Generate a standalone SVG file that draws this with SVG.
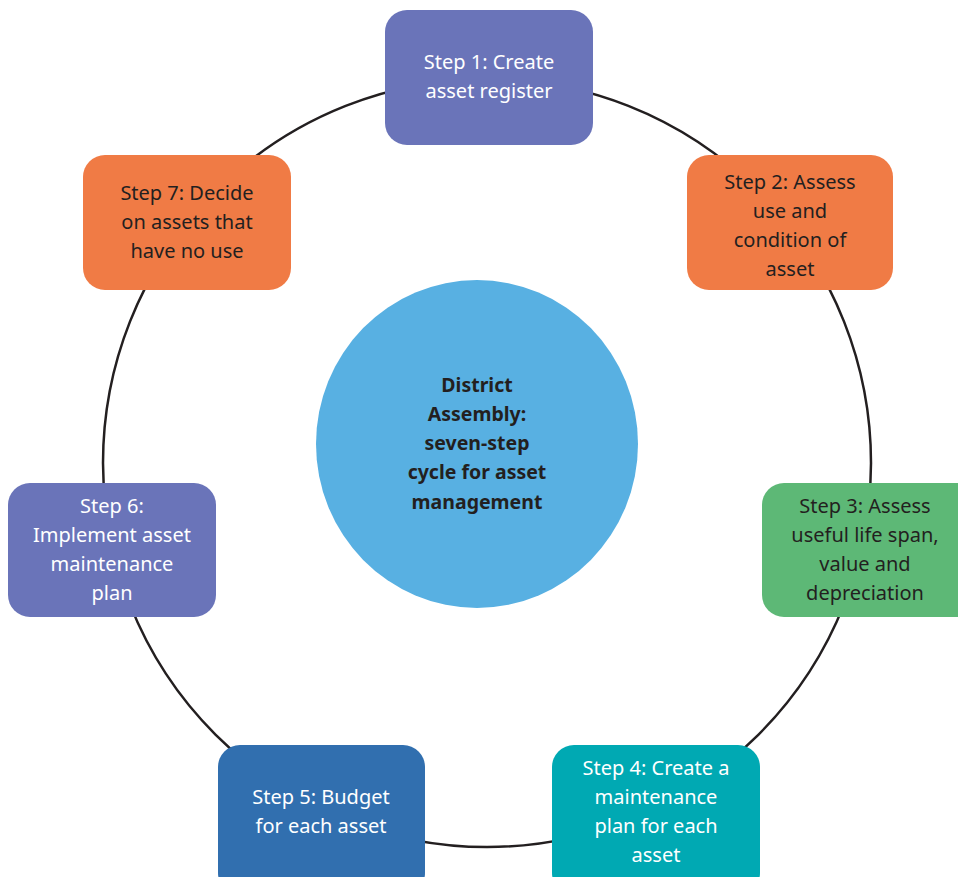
<svg xmlns="http://www.w3.org/2000/svg" width="958" height="877" viewBox="0 0 958 877">
<style>
.box{stroke:none}
.t{font-family:"Noto Sans","Open Sans","DejaVu Sans",sans-serif;font-size:20px;text-anchor:middle}
.w{fill:#ffffff}
.d{fill:#231f20}
.c{font-family:"Noto Sans","Open Sans","DejaVu Sans",sans-serif;font-size:19.5px;font-weight:bold;text-anchor:middle;fill:#231f20}
</style>
<rect width="958" height="877" fill="#ffffff"/>
<g id="connectors">
<circle cx="487" cy="463" r="384" fill="none" stroke="#231f20" stroke-width="2.5"/>
</g>
<g id="center">
<ellipse cx="477" cy="444" rx="161" ry="164" fill="#58b0e2"/>
<text class="c" x="477" y="392">District</text>
<text class="c" x="477" y="421">Assembly:</text>
<text class="c" x="477" y="450">seven-step</text>
<text class="c" x="477" y="479">cycle for asset</text>
<text class="c" x="477" y="509">management</text>
</g>
<g id="step1">
<rect class="box" x="385" y="10" width="208" height="135" rx="22" fill="#6a74b9"/>
<text class="t w" x="489" y="69">Step 1: Create</text>
<text class="t w" x="489" y="98">asset register</text>
</g>
<g id="step2">
<rect class="box" x="687" y="155" width="206" height="135" rx="22" fill="#f07b45"/>
<text class="t d" x="790" y="189">Step 2: Assess</text>
<text class="t d" x="790" y="218">use and</text>
<text class="t d" x="790" y="247">condition of</text>
<text class="t d" x="790" y="276">asset</text>
</g>
<g id="step3">
<rect class="box" x="762" y="483" width="220" height="134" rx="22" fill="#5db876"/>
<text class="t d" x="865" y="513">Step 3: Assess</text>
<text class="t d" x="865" y="542">useful life span,</text>
<text class="t d" x="865" y="571">value and</text>
<text class="t d" x="865" y="600">depreciation</text>
</g>
<g id="step4">
<rect class="box" x="552" y="745" width="208" height="150" rx="22" fill="#00a9b3"/>
<text class="t w" x="656" y="775">Step 4: Create a</text>
<text class="t w" x="656" y="804">maintenance</text>
<text class="t w" x="656" y="833">plan for each</text>
<text class="t w" x="656" y="862">asset</text>
</g>
<g id="step5">
<rect class="box" x="218" y="745" width="207" height="150" rx="22" fill="#316faf"/>
<text class="t w" x="321" y="804">Step 5: Budget</text>
<text class="t w" x="321" y="833">for each asset</text>
</g>
<g id="step6">
<rect class="box" x="8" y="483" width="208" height="134" rx="22" fill="#6a74b9"/>
<text class="t w" x="112" y="513">Step 6:</text>
<text class="t w" x="112" y="542">Implement asset</text>
<text class="t w" x="112" y="571">maintenance</text>
<text class="t w" x="112" y="600">plan</text>
</g>
<g id="step7">
<rect class="box" x="83" y="155" width="208" height="135" rx="22" fill="#f07b45"/>
<text class="t d" x="187" y="200">Step 7: Decide</text>
<text class="t d" x="187" y="229">on assets that</text>
<text class="t d" x="187" y="258">have no use</text>
</g>
</svg>
